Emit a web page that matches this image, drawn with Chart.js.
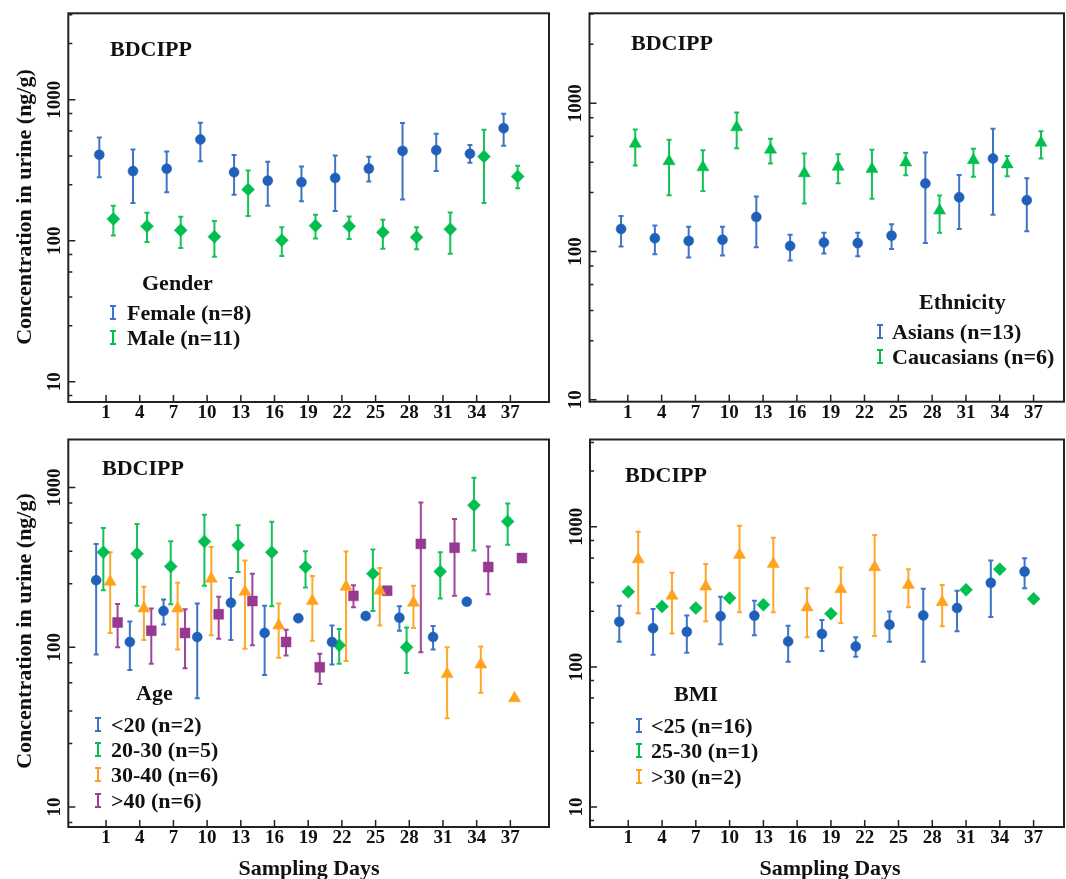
<!DOCTYPE html>
<html>
<head>
<meta charset="utf-8">
<script src="https://cdn.jsdelivr.net/npm/chart.js@4.4.1/dist/chart.umd.min.js"></script>
<style>
  body { margin: 0; background: #fff; width: 1066px; height: 879px; position: relative; overflow: hidden;
         font-family: 'Liberation Serif', 'Times New Roman', serif; color: #111; }
  canvas { position: absolute; }
  .t { position: absolute; font-weight: bold; font-size: 22px; line-height: 1; white-space: nowrap; }
  .yt { position: absolute; font-weight: bold; font-size: 22px; line-height: 1; white-space: nowrap;
        transform: translate(-50%, -50%) rotate(-90deg); }
  .xt { position: absolute; font-weight: bold; font-size: 22px; line-height: 1; white-space: nowrap;
        transform: translate(-50%, -50%); }
  .g { position: absolute; width: 6px; height: 11px; border-top: 2px solid currentColor; border-bottom: 2px solid currentColor;
       background: linear-gradient(currentColor, currentColor) center / 2px 100% no-repeat; }
</style>
</head>
<body>
<canvas id="c1" width="557" height="432" style="left:0;top:0"></canvas>
<canvas id="c2" width="516" height="432" style="left:556px;top:0"></canvas>
<canvas id="c3" width="557" height="447" style="left:0;top:432px"></canvas>
<canvas id="c4" width="516" height="447" style="left:556px;top:432px"></canvas>

<!-- axis titles -->
<div class="yt" style="left:24px;top:207px">Concentration in urine (ng/g)</div>
<div class="yt" style="left:24px;top:631px">Concentration in urine (ng/g)</div>
<div class="xt" style="left:309px;top:868px">Sampling Days</div>
<div class="xt" style="left:830px;top:868px">Sampling Days</div>

<!-- panel labels / legends -->
<div class="t" style="left:110px;top:38px">BDCIPP</div>
<div class="t" style="left:142px;top:272px">Gender</div>
<span class="g" style="left:110px;top:305px;color:#3c72c8"></span><div class="t" style="left:127px;top:302px">Female (n=8)</div>
<span class="g" style="left:110px;top:330px;color:#00c050"></span><div class="t" style="left:127px;top:327px">Male (n=11)</div>

<div class="t" style="left:631px;top:32px">BDCIPP</div>
<div class="t" style="left:919px;top:291px">Ethnicity</div>
<span class="g" style="left:877px;top:324px;color:#3c72c8"></span><div class="t" style="left:892px;top:321px">Asians (n=13)</div>
<span class="g" style="left:877px;top:349px;color:#00c050"></span><div class="t" style="left:892px;top:346px">Caucasians (n=6)</div>

<div class="t" style="left:102px;top:457px">BDCIPP</div>
<div class="t" style="left:136px;top:682px">Age</div>
<span class="g" style="left:95px;top:717px;color:#3c72c8"></span><div class="t" style="left:111px;top:714px">&lt;20 (n=2)</div>
<span class="g" style="left:95px;top:742px;color:#00c050"></span><div class="t" style="left:111px;top:739px">20-30 (n=5)</div>
<span class="g" style="left:95px;top:767px;color:#ffa020"></span><div class="t" style="left:111px;top:764px">30-40 (n=6)</div>
<span class="g" style="left:95px;top:793px;color:#9c3c98"></span><div class="t" style="left:111px;top:790px">&gt;40 (n=6)</div>

<div class="t" style="left:625px;top:464px">BDCIPP</div>
<div class="t" style="left:674px;top:683px">BMI</div>
<span class="g" style="left:636px;top:718px;color:#3c72c8"></span><div class="t" style="left:651px;top:715px">&lt;25 (n=16)</div>
<span class="g" style="left:636px;top:743px;color:#00c050"></span><div class="t" style="left:651px;top:740px">25-30 (n=1)</div>
<span class="g" style="left:636px;top:769px;color:#ffa020"></span><div class="t" style="left:651px;top:766px">&gt;30 (n=2)</div>

<script>
// sampling days and axis ticks
const days = [1, 4, 7, 10, 13, 16, 19, 22, 25, 28, 31, 34, 37];
const xTicks = [1, 4, 7, 10, 13, 16, 19, 22, 25, 28, 31, 34, 37];
const yTicks = [10, 100, 1000];
const yMinor = [2.5, 4, 6, 8];

// gender
const femaleMean = [407, 312, 324, 523, 306, 267, 260, 279, 325, 434, 439, 414, 629];
const femaleLow  = [282, 185, 221, 367, 212, 177, 191, 163, 263, 196, 313, 357, 471];
const femaleHigh = [540, 444, 430, 686, 405, 363, 336, 402, 394, 683, 574, 477, 796];
const maleMean = [143, 127, 119, 107, 231, 101, 128, 127, 115, 106, 121, 396, 286];
const maleLow  = [109, 98, 89, 77, 150, 78, 104, 103, 88, 87, 81, 185, 236];
const maleHigh = [177, 158, 148, 138, 315, 125, 153, 149, 141, 125, 159, 612, 340];

// ethnicity
const asianMean = [142, 123, 118, 120, 171, 109, 115, 114, 128, 288, 232, 424, 222];
const asianLow  = [108, 96, 91, 94, 107, 87, 97, 93, 104, 114, 142, 177, 137];
const asianHigh = [174, 150, 147, 147, 235, 130, 134, 134, 153, 465, 329, 675, 312];
const caucMean = [534, 407, 370, 689, 487, 337, 373, 360, 399, 189, 413, 387, 542];
const caucLow  = [381, 240, 256, 497, 393, 211, 289, 227, 327, 134, 319, 322, 424];
const caucHigh = [665, 567, 482, 867, 576, 458, 453, 487, 463, 239, 494, 442, 648];

// age
const u20Mean = [263, 108, 169, 116, 190, 123, 152, 108, 157, 153, 116, 193, null];
const u20Low  = [90, 72, 139, 48, 111, 67, null, 78, null, 127, 97, null, null];
const u20High = [444, 145, 199, 188, 272, 182, null, 137, null, 181, 136, null, null];
const a2030Mean = [394, 385, 321, 459, 436, 394, 318, 103, 289, 100, 298, 776, 614];
const a2030Low  = [228, 182, 186, 243, 296, 181, 237, 79, 169, 69, 202, 404, 438];
const a2030High = [559, 592, 461, 676, 580, 611, 400, 130, 410, 133, 394, 1154, 795];
const a3040Mean = [257, 175, 175, 269, 223, 137, 195, 239, 226, 190, 68, 78, 48];
const a3040Low  = [123, 111, 97, 119, 98, 86, 110, 82, 137, 132, 36, 52, null];
const a3040High = [394, 239, 254, 424, 350, 188, 280, 398, 314, 243, 100, 101, null];
const o40Mean = [143, 127, 123, 161, 195, 108, 75, 210, 226, 444, 420, 318, 362];
const o40Low  = [100, 79, 74, 113, 103, 89, 59, 178, null, 93, 210, 215, null];
const o40High = [187, 175, 173, 207, 289, 129, 91, 245, null, 807, 636, 428, null];

// bmi
const b25Mean = [210, 189, 178, 230, 232, 152, 172, 140, 200, 233, 263, 398, 479];
const b25Low  = [151, 122, 126, 145, 168, 109, 130, 118, 151, 109, 180, 227, 365];
const b25High = [273, 259, 233, 317, 297, 197, 216, 163, 249, 361, 349, 574, 596];
const b2530Mean = [344, 270, 263, 310, 278, null, 240, null, null, null, 355, 498, 306];
const b30Mean = [586, 322, 375, 629, 543, 266, 359, 514, 385, 290, null, null, null];
const b30Low  = [242, 173, 212, 246, 246, 163, 206, 166, 267, 195, null, null, null];
const b30High = [921, 471, 543, 1016, 835, 365, 512, 873, 498, 385, null, null, null];

const BLUE = { fill: '#2160b9', bar: '#3f74c6', shape: 'circle', r: 5 };
const GREEN_D = { fill: '#00bf4e', bar: '#14c258', shape: 'rectRot', r: 6.5 };
const GREEN_T = { fill: '#00bf4e', bar: '#14c258', shape: 'triangle', r: 7 };
const ORANGE = { fill: '#ffa21c', bar: '#ffa72a', shape: 'triangle', r: 7 };
const PURPLE = { fill: '#973893', bar: '#9f469b', shape: 'rect', r: 7 };

function series(mean, lo, hi, dodge, st) {
  const pts = [];
  days.forEach((d, i) => {
    if (mean[i] == null) return;
    pts.push({ x: d + dodge, y: mean[i], lo: lo ? lo[i] : null, hi: hi ? hi[i] : null });
  });
  return {
    data: pts, pointStyle: st.shape, pointRadius: st.r, pointHoverRadius: st.r,
    backgroundColor: st.fill, borderColor: st.fill, borderWidth: 0.5, barColor: st.bar
  };
}

// error bars, frame and inward ticks
const frameTicks = {
  id: 'frameTicks',
  beforeDatasetsDraw(chart) {
    const ctx = chart.ctx, ys = chart.scales.y;
    ctx.save();
    ctx.lineWidth = 2;
    chart.data.datasets.forEach((ds, di) => {
      const meta = chart.getDatasetMeta(di);
      ctx.strokeStyle = ds.barColor;
      meta.data.forEach((el, i) => {
        const p = ds.data[i];
        if (p.lo == null || p.hi == null) return;
        const y1 = ys.getPixelForValue(p.lo), y2 = ys.getPixelForValue(p.hi);
        ctx.beginPath();
        ctx.moveTo(el.x, y1); ctx.lineTo(el.x, y2);
        ctx.moveTo(el.x - 2.5, y1); ctx.lineTo(el.x + 2.5, y1);
        ctx.moveTo(el.x - 2.5, y2); ctx.lineTo(el.x + 2.5, y2);
        ctx.stroke();
      });
    });
    ctx.restore();
  },
  afterDraw(chart) {
    const ctx = chart.ctx, a = chart.chartArea, xs = chart.scales.x, ys = chart.scales.y;
    ctx.save();
    ctx.strokeStyle = '#222';
    ctx.lineWidth = 1.5;
    ctx.beginPath();
    xTicks.forEach(v => { const x = xs.getPixelForValue(v); ctx.moveTo(x, a.bottom); ctx.lineTo(x, a.bottom - 7); });
    yTicks.forEach(v => {
      if (v < ys.min || v > ys.max) return;
      const y = ys.getPixelForValue(v); ctx.moveTo(a.left, y); ctx.lineTo(a.left + 7, y);
    });
    [1, 10, 100, 1000].forEach(dec => yMinor.forEach(m => {
      const v = dec * m;
      if (v <= ys.min || v >= ys.max) return;
      const y = ys.getPixelForValue(v); ctx.moveTo(a.left, y); ctx.lineTo(a.left + 4, y);
    }));
    ctx.stroke();
    ctx.lineWidth = 2;
    ctx.strokeRect(a.left, a.top, a.right - a.left, a.bottom - a.top);
    ctx.restore();
  }
};

const tickFont = { family: 'Liberation Serif', weight: 'bold', size: 19 };

function makePanel(id, box, frame, xMin, xMax, yMin, yMax, datasets) {
  new Chart(document.getElementById(id), {
    type: 'scatter',
    data: { datasets },
    options: {
      responsive: false,
      animation: false,
      layout: { padding: { left: 0, top: frame.top - box.top, right: box.left + box.width - frame.right, bottom: 0 } },
      plugins: { legend: { display: false }, tooltip: { enabled: false } },
      scales: {
        x: {
          type: 'linear', min: xMin, max: xMax,
          afterBuildTicks: s => { s.ticks = xTicks.map(v => ({ value: v })); },
          afterFit: s => { s.height = box.top + box.height - frame.bottom; },
          grid: { display: false, drawTicks: false, tickLength: 0 },
          border: { display: false },
          ticks: { autoSkip: false, maxRotation: 0, padding: 0, color: '#111', font: tickFont, callback: v => String(v) }
        },
        y: {
          type: 'logarithmic', min: yMin, max: yMax,
          afterBuildTicks: s => { s.ticks = yTicks.map(v => ({ value: v })); },
          afterFit: s => { s.width = frame.left - box.left; },
          grid: { display: false, drawTicks: false, tickLength: 0 },
          border: { display: false },
          ticks: { autoSkip: false, minRotation: 90, maxRotation: 90, crossAlign: 'center', padding: -6,
                   color: '#111', font: tickFont, callback: v => String(v) }
        }
      }
    },
    plugins: [frameTicks]
  });
}

makePanel('c1', { left: 0, top: 0, width: 557, height: 432 }, { left: 68.3, top: 13.3, right: 549, bottom: 402 },
  -2.36, 40.44, 7.2, 4100, [
    series(femaleMean, femaleLow, femaleHigh, -0.6, BLUE),
    series(maleMean, maleLow, maleHigh, 0.65, GREEN_D)
  ]);

makePanel('c2', { left: 556, top: 0, width: 516, height: 432 }, { left: 589.5, top: 13.3, right: 1064, bottom: 401.7 },
  -2.4, 39.7, 9.7, 4050, [
    series(asianMean, asianLow, asianHigh, -0.6, BLUE),
    series(caucMean, caucLow, caucHigh, 0.66, GREEN_T)
  ]);

makePanel('c3', { left: 0, top: 432, width: 557, height: 447 }, { left: 68.3, top: 437, right: 549, bottom: 827 },
  -2.36, 40.44, 7.5, 2000, [
    series(u20Mean, u20Low, u20High, -0.88, BLUE),
    series(a2030Mean, a2030Low, a2030High, -0.24, GREEN_D),
    series(a3040Mean, a3040Low, a3040High, 0.37, ORANGE),
    series(o40Mean, o40Low, o40High, 1.03, PURPLE)
  ]);

makePanel('c4', { left: 556, top: 432, width: 516, height: 447 }, { left: 590, top: 437, right: 1064, bottom: 827 },
  -2.4, 39.7, 7.2, 4200, [
    series(b25Mean, b25Low, b25High, -0.8, BLUE),
    series(b2530Mean, null, null, 0, GREEN_D),
    series(b30Mean, b30Low, b30High, 0.88, ORANGE)
  ]);
</script>
</body>
</html>
